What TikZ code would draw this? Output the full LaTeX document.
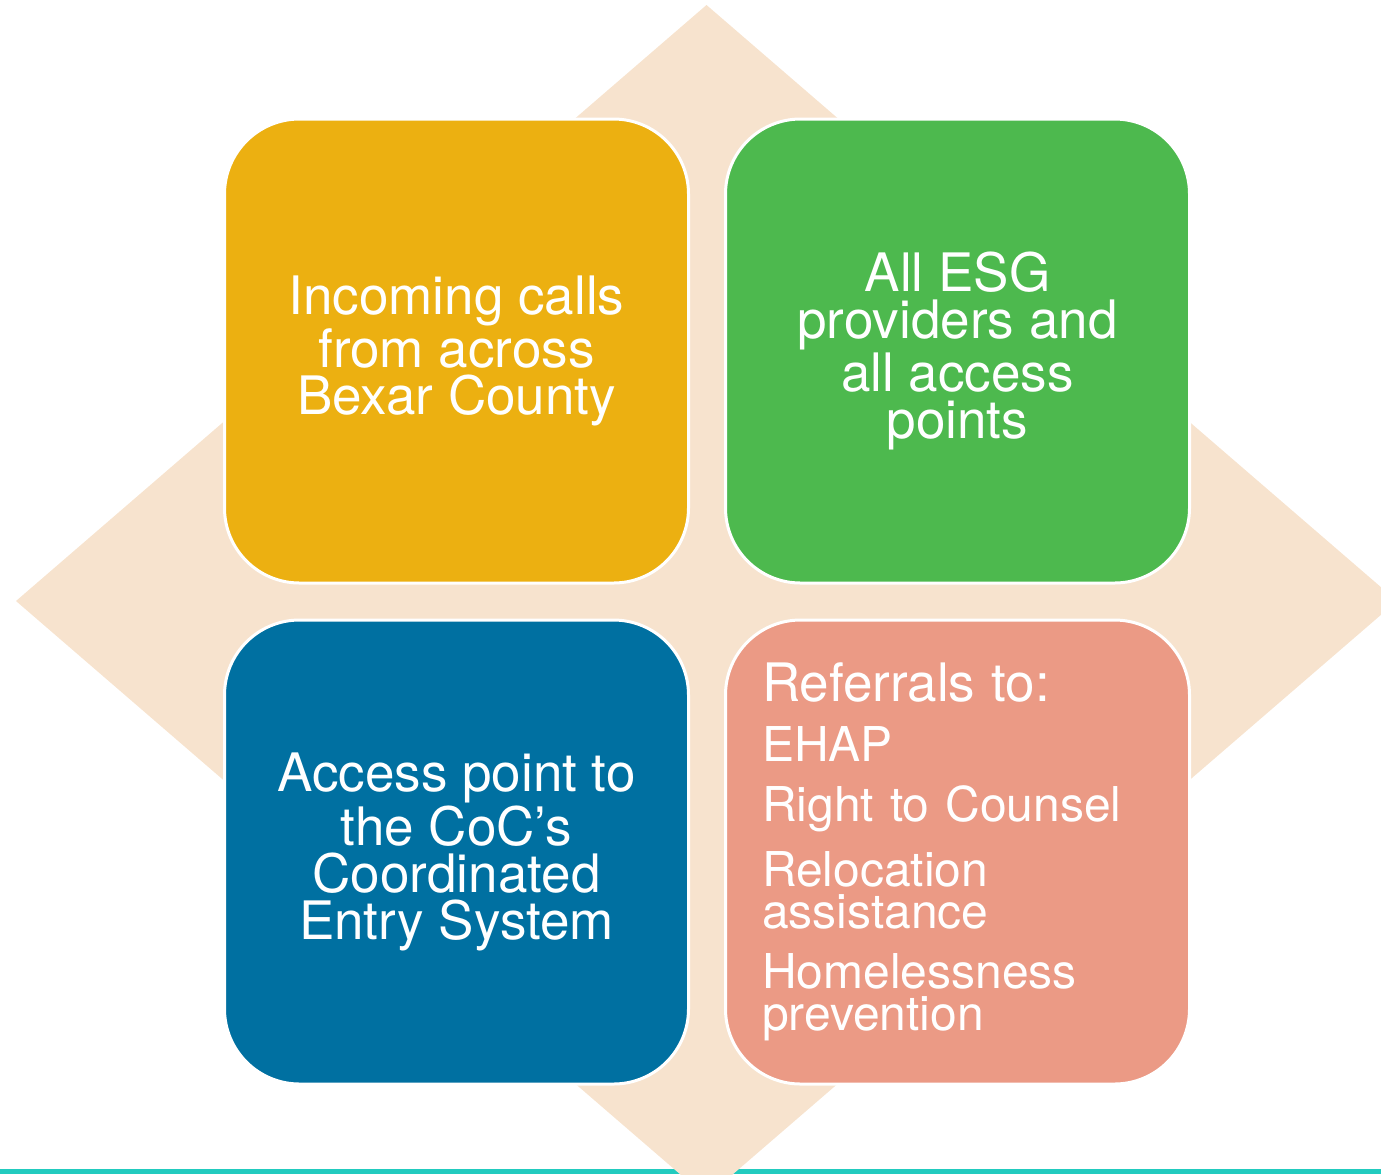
\documentclass[tikz,border=0pt]{standalone}
\usepackage{fontspec}
\setmainfont{TeX Gyre Heros}
\usetikzlibrary{positioning}
\definecolor{sand}{RGB}{247,227,206}
\definecolor{gold}{RGB}{236,176,17}
\definecolor{leaf}{RGB}{77,185,78}
\definecolor{ocean}{RGB}{0,112,161}
\definecolor{coral}{RGB}{235,154,133}
\definecolor{rulecolor}{RGB}{34,203,191}

\begin{document}
\begin{tikzpicture}[x=0.5pt, y=-0.5pt,
    tile/.style={draw=white, line width=1.5pt, rounded corners=37.5pt,
      minimum width=232pt, minimum height=232pt, inner sep=0pt,
      text=white, align=center, font=\fontsize{26.5}{23.5}\selectfont}]
  \clip (0,0) rectangle (1381,1174);
  % base rule and the diamond behind the tiles
  \fill[rulecolor] (0,1169) rectangle (1381,1174);
  \fill[sand] (706.5,5) -- (16,601) -- (706.5,1197) -- (1397,601) -- cycle;
  % four tiles
  \node[tile, fill=gold] (calls) at (456.5,351) {Incoming calls\\ from across\\ Bexar County};
  \node[tile, fill=leaf] (providers) at (957.5,351) {All ESG\\ providers and\\ all access\\ points};
  \node[tile, fill=ocean] (access) at (456.5,852) {Access point to\\ the CoC’s\\ Coordinated\\ Entry System};
  \node[tile, fill=coral, align=left, text width=195.5pt, font=\fontsize{24}{21}\selectfont]
    (referrals) at (957.5,852) {{\fontsize{26.5}{21}\selectfont Referrals to:}\\[9pt] EHAP\\[9pt] Right to Counsel\\[9pt] Relocation\\ assistance\\[9pt] Homelessness\\ prevention};
\end{tikzpicture}
\end{document}
